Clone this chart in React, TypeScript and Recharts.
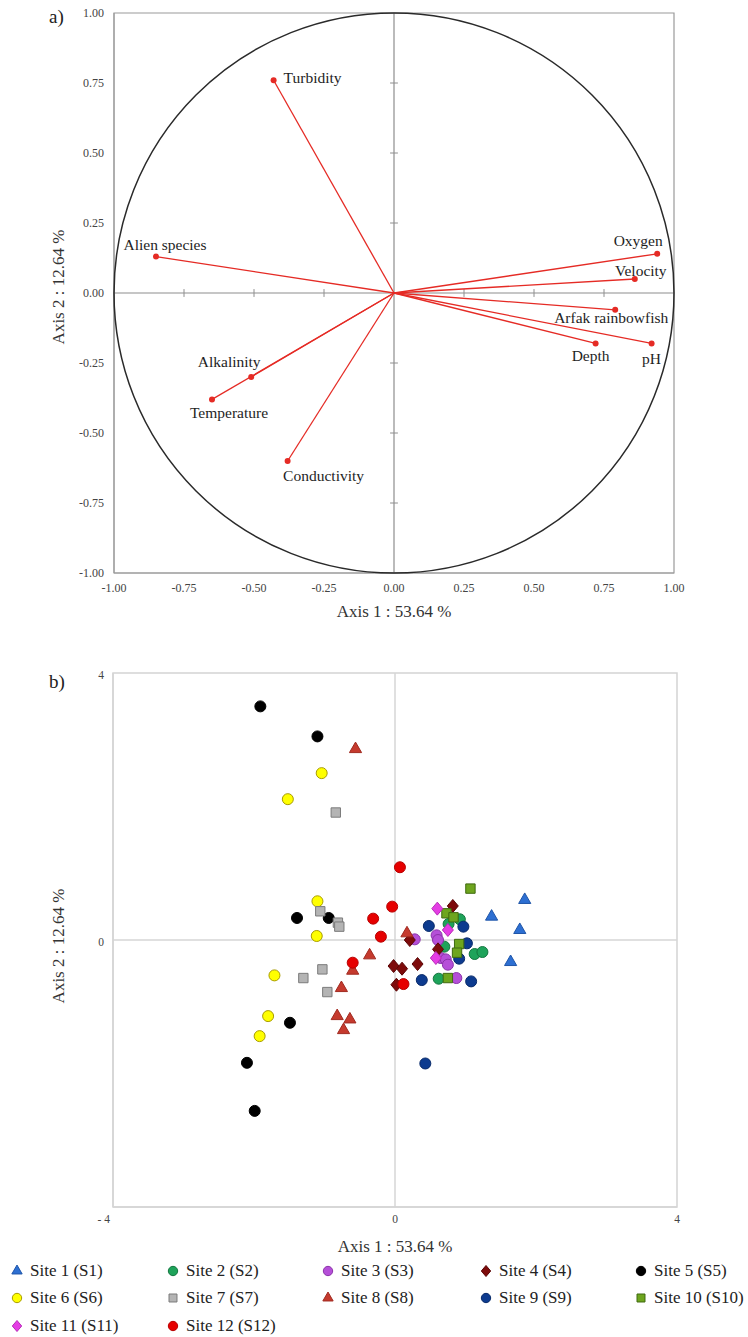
import React from 'react';
import {
  ScatterChart,
  Scatter,
  XAxis,
  YAxis,
  ReferenceLine,
  ReferenceArea,
  ReferenceDot,
  Symbols,
} from 'recharts';

const SERIF = '"Liberation Serif", "Times New Roman", serif';
const RED = '#e52b25';

// a) variables on the correlation circle
const variables = [
  'Turbidity',
  'Alien species',
  'Oxygen',
  'Velocity',
  'Arfak rainbowfish',
  'Depth',
  'pH',
  'Alkalinity',
  'Temperature',
  'Conductivity',
];
const axis1Loadings = [-0.43, -0.85, 0.94, 0.86, 0.79, 0.72, 0.92, -0.51, -0.65, -0.38];
const axis2Loadings = [0.76, 0.13, 0.14, 0.05, -0.06, -0.18, -0.18, -0.3, -0.38, -0.6];
const circleTicks = [-1, -0.75, -0.5, -0.25, 0, 0.25, 0.5, 0.75, 1];

// b) site scores, [axis 1, axis 2]
const site1 = [[1.84, 0.6], [1.37, 0.35], [1.77, 0.15], [1.64, -0.33]];
const site2 = [[0.76, 0.24], [0.92, 0.31], [0.7, -0.1], [1.13, -0.21], [1.24, -0.18], [0.62, -0.58]];
const site3 = [[0.28, 0.01], [0.59, 0.07], [0.61, 0.0], [0.65, -0.27], [0.72, -0.29], [0.75, -0.37], [0.87, -0.57]];
const site4 = [[0.82, 0.51], [0.21, 0.0], [0.61, -0.14], [-0.02, -0.39], [0.1, -0.43], [0.32, -0.36], [0.02, -0.67]];
const site5 = [[-1.91, 3.5], [-1.1, 3.05], [-1.39, 0.33], [-0.94, 0.33], [-1.49, -1.24], [-2.1, -1.84], [-1.99, -2.56]];
const site6 = [[-1.04, 2.5], [-1.52, 2.11], [-1.1, 0.58], [-1.11, 0.06], [-1.71, -0.53], [-1.8, -1.14], [-1.92, -1.44]];
const site7 = [[-0.84, 1.91], [-1.06, 0.43], [-0.81, 0.26], [-0.79, 0.2], [-1.03, -0.44], [-1.3, -0.57], [-0.96, -0.78]];
const site8 = [[-0.56, 2.86], [0.17, 0.1], [-0.36, -0.23], [-0.6, -0.46], [-0.76, -0.72], [-0.82, -1.14], [-0.64, -1.19], [-0.73, -1.35]];
const site9 = [[0.48, 0.21], [0.97, 0.2], [1.02, -0.05], [0.91, -0.28], [0.38, -0.6], [1.08, -0.62], [0.43, -1.85]];
const site10 = [[1.07, 0.77], [0.73, 0.4], [0.83, 0.34], [0.91, -0.06], [0.88, -0.19], [0.75, -0.57]];
const site11 = [[0.6, 0.47], [0.75, 0.15], [0.58, -0.27]];
const site12 = [[0.07, 1.09], [-0.04, 0.5], [-0.31, 0.32], [-0.2, 0.05], [-0.6, -0.34], [0.12, -0.66]];

const siteNames = [
  'Site 1 (S1)', 'Site 2 (S2)', 'Site 3 (S3)', 'Site 4 (S4)', 'Site 5 (S5)', 'Site 6 (S6)',
  'Site 7 (S7)', 'Site 8 (S8)', 'Site 9 (S9)', 'Site 10 (S10)', 'Site 11 (S11)', 'Site 12 (S12)',
];
const siteScores = [site1, site2, site3, site4, site5, site6, site7, site8, site9, site10, site11, site12];
const scoreTicks = [-4, 0, 4];

// marker styles per site
const siteStyles = [
  { type: 'triangle', fill: '#2d6fd2', stroke: '#1f55a8', size: 64 },
  { type: 'circle', fill: '#1ea35a', stroke: '#13763f', size: 95 },
  { type: 'circle', fill: '#b54fd8', stroke: '#8b33aa', size: 95 },
  { type: 'diamond', fill: '#7d0b0b', stroke: '#5a0505', size: 11 },
  { type: 'circle', fill: '#000000', stroke: '#000000', size: 95 },
  { type: 'circle', fill: '#ffff00', stroke: '#a99c00', size: 95 },
  { type: 'square', fill: '#b4b4b4', stroke: '#7b7b7b', size: 88 },
  { type: 'triangle', fill: '#c53a2e', stroke: '#a02a20', size: 64 },
  { type: 'circle', fill: '#0d3b8f', stroke: '#082a6a', size: 95 },
  { type: 'square', fill: '#6ea51e', stroke: '#3f6a10', size: 88 },
  { type: 'diamond', fill: '#e43de4', stroke: '#b82ab8', size: 11 },
  { type: 'circle', fill: '#e60000', stroke: '#b80000', size: 95 },
];

// label placement next to each arrow tip
const labelOffsets: Record<string, { dx: number; dy: number; anchor: string }> = {
  Turbidity: { dx: 10, dy: -3, anchor: 'start' },
  'Alien species': { dx: 9, dy: -12, anchor: 'middle' },
  Oxygen: { dx: -19, dy: -13, anchor: 'middle' },
  Velocity: { dx: 6, dy: -9, anchor: 'middle' },
  'Arfak rainbowfish': { dx: -4, dy: 8, anchor: 'middle' },
  Depth: { dx: -5, dy: 12, anchor: 'middle' },
  pH: { dx: 0, dy: 15, anchor: 'middle' },
  Alkalinity: { dx: -22, dy: -16, anchor: 'middle' },
  Temperature: { dx: 17, dy: 13, anchor: 'middle' },
  Conductivity: { dx: 36, dy: 14, anchor: 'middle' },
};

const vectorData = variables.map((name, i) => ({ name, x: axis1Loadings[i], y: axis2Loadings[i] }));

function VectorTip(props: any) {
  const { cx, cy, payload } = props;
  const o = labelOffsets[payload.name];
  return (
    <g>
      <circle cx={cx} cy={cy} r={3} fill={RED} />
      <text
        x={cx + o.dx}
        y={cy + o.dy}
        textAnchor={o.anchor}
        dominantBaseline="central"
        fontSize={15.5}
        fontFamily={SERIF}
        fill="#1e1e1e"
      >
        {payload.name}
      </text>
    </g>
  );
}

function XTitle(props: any) {
  const { viewBox, dy } = props;
  return (
    <text
      x={viewBox.x + viewBox.width / 2}
      y={viewBox.y + dy}
      textAnchor="middle"
      dominantBaseline="central"
      fontSize={17}
      fontFamily={SERIF}
      fill="#333"
    >
      Axis 1 : 53.64 %
    </text>
  );
}

function YTitle(props: any) {
  const { viewBox, dy } = props;
  const cx = viewBox.x + 58;
  const cy = viewBox.y + viewBox.height / 2 + dy;
  return (
    <text
      x={cx}
      y={cy}
      transform={`rotate(-90, ${cx}, ${cy})`}
      textAnchor="middle"
      dominantBaseline="central"
      fontSize={17}
      fontFamily={SERIF}
      fill="#333"
    >
      Axis 2 : 12.64 %
    </text>
  );
}

const circleTick = { fontSize: 12, fill: '#444', fontFamily: SERIF };

function CorrelationCircle() {
  const inner = circleTicks.filter((t) => Math.abs(t) > 0 && Math.abs(t) < 1);
  return (
    <ScatterChart width={748} height={630} margin={{ top: 13, right: 74, bottom: 17, left: 0 }}>
      <XAxis
        type="number"
        dataKey="x"
        domain={[-1, 1]}
        ticks={circleTicks}
        interval={0}
        tickFormatter={(v: number) => v.toFixed(2)}
        tick={circleTick}
        tickLine={false}
        tickMargin={4}
        axisLine={{ stroke: '#9a9a9a' }}
        height={40}
        allowDataOverflow
        label={<XTitle dy={38} />}
      />
      <YAxis
        type="number"
        dataKey="y"
        domain={[-1, 1]}
        ticks={circleTicks}
        interval={0}
        tickFormatter={(v: number) => v.toFixed(2)}
        tick={circleTick}
        tickLine={false}
        tickMargin={4}
        axisLine={{ stroke: '#9a9a9a' }}
        width={114}
        allowDataOverflow
        label={<YTitle dy={-6} />}
      />
      <ReferenceArea x1={-1} x2={1} y1={-1} y2={1} fill="none" stroke="#9a9a9a" strokeWidth={1.2} />
      <ReferenceLine x={0} stroke="#8e8e8e" strokeWidth={1.2} />
      <ReferenceLine y={0} stroke="#8e8e8e" strokeWidth={1.2} />
      {inner.map((t) => (
        <ReferenceLine
          key={`hx${t}`}
          segment={[{ x: t, y: -0.014 }, { x: t, y: 0.014 }]}
          stroke="#8e8e8e"
        />
      ))}
      {inner.map((t) => (
        <ReferenceLine
          key={`vy${t}`}
          segment={[{ x: -0.014, y: t }, { x: 0.014, y: t }]}
          stroke="#8e8e8e"
        />
      ))}
      <ReferenceDot x={0} y={0} r={280} fill="none" stroke="#2a2a2a" strokeWidth={1.5} />
      {vectorData.map((v) => (
        <ReferenceLine
          key={v.name}
          segment={[{ x: 0, y: 0 }, { x: v.x, y: v.y }]}
          stroke={RED}
          strokeWidth={1.3}
        />
      ))}
      <Scatter data={vectorData} shape={<VectorTip />} isAnimationActive={false} />
    </ScatterChart>
  );
}

function ScoreXTick(props: any) {
  const { x, y, payload } = props;
  const v = payload.value;
  return (
    <text
      x={v === -4 ? x - 3 : x}
      y={y + 2}
      textAnchor={v === -4 ? 'end' : 'middle'}
      dominantBaseline="central"
      fontSize={11.5}
      fontFamily={SERIF}
      fill="#444"
    >
      {v === -4 ? '- 4' : v}
    </text>
  );
}

function ScoreYTick(props: any) {
  const { x, y, payload } = props;
  if (payload.value === -4) return null;
  return (
    <text
      x={x}
      y={y + 2}
      textAnchor="end"
      dominantBaseline="central"
      fontSize={11.5}
      fontFamily={SERIF}
      fill="#444"
    >
      {payload.value}
    </text>
  );
}

// one marker glyph; diamonds are drawn as a slightly tall rhombus
function Marker({ cx, cy, style, scale = 1 }: { cx: number; cy: number; style: any; scale?: number }) {
  if (style.type === 'diamond') {
    const w = (style.size / 2) * scale;
    const h = (style.size / 2 + 1) * scale;
    return (
      <polygon
        points={`${cx},${cy - h} ${cx + w},${cy} ${cx},${cy + h} ${cx - w},${cy}`}
        fill={style.fill}
        stroke={style.stroke}
        strokeWidth={1}
      />
    );
  }
  return (
    <Symbols
      cx={cx}
      cy={cy}
      type={style.type}
      size={style.size * scale * scale}
      sizeType="area"
      fill={style.fill}
      stroke={style.stroke}
      strokeWidth={1}
    />
  );
}

function siteShape(idx: number) {
  const s = siteStyles[idx];
  return (props: any) => <Marker cx={props.cx} cy={props.cy} style={s} />;
}

function SiteScores() {
  return (
    <ScatterChart width={748} height={707} margin={{ top: 43, right: 71, bottom: 80, left: 0 }}>
      <XAxis
        type="number"
        dataKey="x"
        domain={[-4, 4]}
        ticks={scoreTicks}
        interval={0}
        tick={<ScoreXTick />}
        tickLine={false}
        tickMargin={4}
        axisLine={{ stroke: '#d4d4d4', strokeWidth: 1.5 }}
        height={50}
        allowDataOverflow
        label={<XTitle dy={39} />}
      />
      <YAxis
        type="number"
        dataKey="y"
        domain={[-4, 4]}
        ticks={scoreTicks}
        interval={0}
        tick={<ScoreYTick />}
        tickLine={false}
        tickMargin={3}
        axisLine={{ stroke: '#d4d4d4', strokeWidth: 1.5 }}
        width={113}
        allowDataOverflow
        label={<YTitle dy={6} />}
      />
      <ReferenceArea x1={-4} x2={4} y1={-4} y2={4} fill="none" stroke="#d4d4d4" strokeWidth={1.5} />
      <ReferenceLine x={0} stroke="#d6d6d6" strokeWidth={1.5} />
      <ReferenceLine y={0} stroke="#d6d6d6" strokeWidth={1.5} />
      {siteScores.map((pts, i) => (
        <Scatter
          key={siteNames[i]}
          name={siteNames[i]}
          data={pts.map(([x, y]) => ({ x, y }))}
          shape={siteShape(i)}
          isAnimationActive={false}
        />
      ))}
    </ScatterChart>
  );
}

const legendCols = [17, 173, 328, 486, 641];
const legendRows = [1271, 1298, 1326];

function SiteLegend() {
  return (
    <>
      {siteNames.map((name, i) => {
        const s = siteStyles[i];
        const cx = legendCols[i % 5];
        const cy = legendRows[Math.floor(i / 5)];
        return (
          <div
            key={name}
            style={{
              position: 'absolute',
              left: cx - 7,
              top: cy - 12,
              height: 24,
              display: 'flex',
              alignItems: 'center',
              whiteSpace: 'nowrap',
              fontFamily: SERIF,
              fontSize: 17,
              color: '#222',
            }}
          >
            <svg width={14} height={14} style={{ marginRight: 6 }}>
              <Marker cx={7} cy={7} style={s} scale={0.85} />
            </svg>
            {name}
          </div>
        );
      })}
    </>
  );
}

export default function App() {
  return (
    <div style={{ position: 'absolute', left: 0, top: 0, width: 748, height: 1337, background: '#fff' }}>
      <div style={{ position: 'absolute', left: 0, top: 0 }}>
        <CorrelationCircle />
      </div>
      <div style={{ position: 'absolute', left: 0, top: 630 }}>
        <SiteScores />
      </div>
      <div style={{ position: 'absolute', left: 49, top: 6, fontFamily: SERIF, fontSize: 19, color: '#222' }}>
        a)
      </div>
      <div style={{ position: 'absolute', left: 49, top: 671, fontFamily: SERIF, fontSize: 19, color: '#222' }}>
        b)
      </div>
      <SiteLegend />
    </div>
  );
}
